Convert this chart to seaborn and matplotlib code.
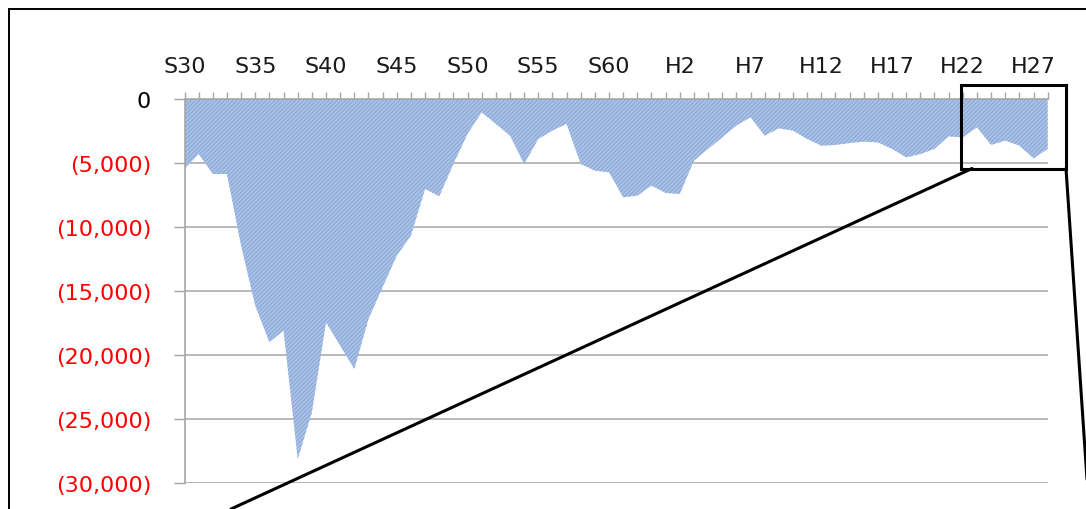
import numpy as np
import pandas as pd
import matplotlib
matplotlib.use("Agg")
import matplotlib.pyplot as plt
from matplotlib.patches import Rectangle
from matplotlib.lines import Line2D
import seaborn as sns

# Fiscal years S30 (1955) .. H28 (2016)
years = ["S%d" % y for y in range(30, 64)] + ["H%d" % y for y in range(1, 29)]

# Annual balance (negative values shown in parentheses)
balance = [
    -5470, -4300, -5860, -5860, -11460, -16150, -19000, -18100, -28125, -24500,
    -17450, -19270, -21100, -17190, -14700, -12240, -10680, -7030, -7600, -5080,
    -2730, -1040, -1950, -2860, -5080, -3125, -2470, -1950, -5080, -5600,
    -5730, -7680, -7550, -6770, -7340, -7420, -4820, -3900, -3000, -2080,
    -1430, -2860, -2290, -2470, -3125, -3650, -3590, -3440, -3330, -3390,
    -3900, -4560, -4300, -3900, -2920, -3000, -2210, -3590, -3250, -3650,
    -4640, -3900,
]

# Labelled year ticks along the top axis
year_ticks = ["S30", "S35", "S40", "S45", "S50", "S55", "S60",
              "H2", "H7", "H12", "H17", "H22", "H27"]

# Value axis
y_ticks = [0, -5000, -10000, -15000, -20000, -25000, -30000]
y_tick_labels = ["0", "(5,000)", "(10,000)", "(15,000)", "(20,000)",
                 "(25,000)", "(30,000)"]

df = pd.DataFrame({"idx": np.arange(len(years)), "year": years, "balance": balance})

sns.set_theme(style="white")
plt.rcParams["font.family"] = ["DejaVu Sans"]

W, H = 1086, 510
fig = plt.figure(figsize=(W / 100, H / 100), dpi=100)
fig.patch.set_facecolor("white")

ax = fig.add_axes([184.5 / W, 26 / H, 863.2 / W, 384 / H])

# Area: draw the series line invisibly through seaborn, then fill to zero
sns.lineplot(data=df, x="idx", y="balance", ax=ax, color="#6f93cc",
             linewidth=0, legend=False)
plt.rcParams["hatch.linewidth"] = 0.5
ax.fill_between(df["idx"], df["balance"], 0, facecolor="#aac1e6",
                edgecolor="#7b9dd3", hatch="////////", linewidth=0, zorder=2)

ax.set_xlim(0, len(years) - 1)
ax.set_ylim(-30000, 0)

grid_gray = "#a6a6a6"

# Top category axis
ax.xaxis.tick_top()
major_pos = [years.index(t) for t in year_ticks]
ax.set_xticks(major_pos)
ax.set_xticklabels(year_ticks, fontsize=16, color="#1a1a1a")
ax.set_xticks(np.arange(len(years)), minor=True)
ax.tick_params(axis="x", which="both", direction="out", length=5.2, width=1.0,
               color=grid_gray, top=True, bottom=False, pad=11.5)
ax.set_xlabel("")
ax.set_ylabel("")

# Value axis with red negative labels
ax.set_yticks(y_ticks)
ax.set_yticklabels(y_tick_labels, fontsize=16)
for lab, v in zip(ax.get_yticklabels(), y_ticks):
    lab.set_color("#000000" if v == 0 else "#ff0000")
ax.tick_params(axis="y", direction="out", length=8, width=1.0, color=grid_gray,
               left=True, pad=16)

ax.yaxis.grid(True, color=grid_gray, linewidth=1.1)
ax.xaxis.grid(False)
ax.set_axisbelow(True)

for side in ["right", "bottom"]:
    ax.spines[side].set_visible(False)
for side in ["top", "left"]:
    ax.spines[side].set_color(grid_gray)
    ax.spines[side].set_linewidth(1.2)
    ax.spines[side].set_zorder(3)


def fx(px):
    return px / W


def fy(py):
    return 1 - py / H


# Outer frame (top and left edges inside the canvas)
fig.add_artist(Line2D([fx(8.5), fx(1086)], [fy(9.5), fy(9.5)],
                      transform=fig.transFigure, color="black", linewidth=1.4))
fig.add_artist(Line2D([fx(8.5), fx(8.5)], [fy(9.5), fy(510)],
                      transform=fig.transFigure, color="black", linewidth=1.4))

# Callout box around the recent years with leader lines
fig.add_artist(Rectangle((fx(961), fy(169.5)), fx(1065.5) - fx(961),
                         fy(86) - fy(169.5), transform=fig.transFigure,
                         fill=False, edgecolor="black", linewidth=2.2, zorder=5))
fig.add_artist(Line2D([fx(972), fx(231)], [fy(169.5), fy(510)],
                      transform=fig.transFigure, color="black", linewidth=2.2,
                      zorder=5))
fig.add_artist(Line2D([fx(1066), fx(1089)], [fy(169.5), fy(510)],
                      transform=fig.transFigure, color="black", linewidth=2.2,
                      zorder=5))

fig.savefig("out.png", dpi=100, facecolor="white")
